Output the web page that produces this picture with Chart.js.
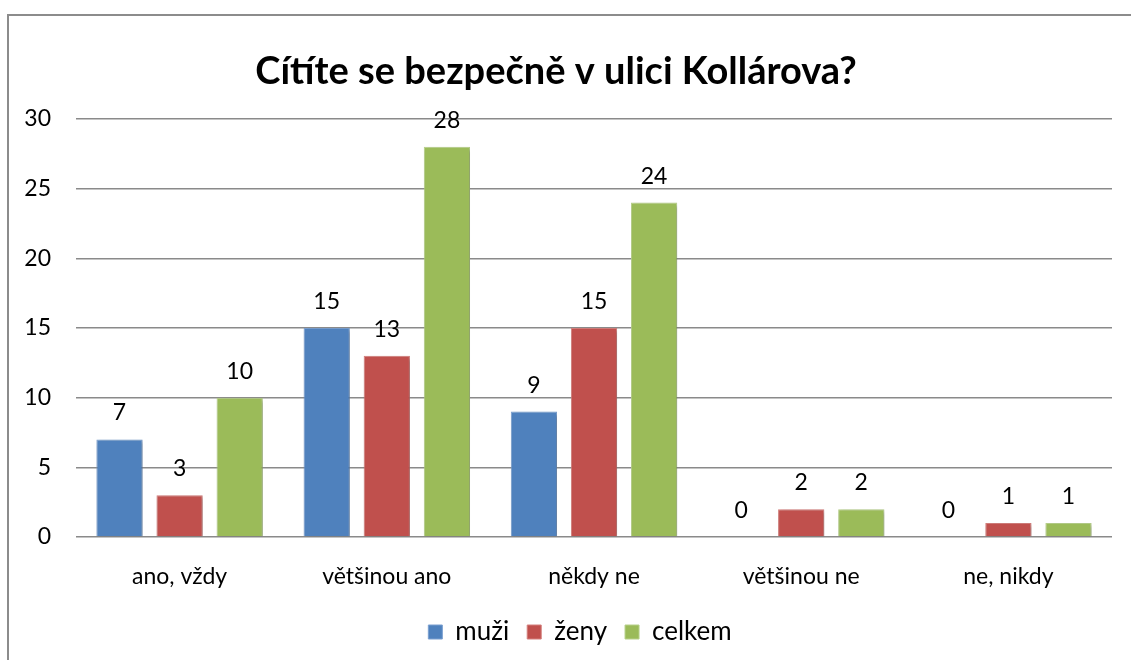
<!DOCTYPE html>
<html>
<head>
<meta charset="utf-8">
<script src="https://cdn.jsdelivr.net/npm/chart.js@4.4.1/dist/chart.umd.min.js"></script>
<style>
html,body{margin:0;padding:0;background:#fff;}
#wrap{width:1131px;height:660px;position:relative;}
</style>
</head>
<body>
<div id="wrap"><canvas id="c" width="1131" height="660"></canvas></div>
<script>
const categories = ["ano, vždy", "většinou ano", "někdy ne", "většinou ne", "ne, nikdy"];
const muzi = [7, 15, 9, 0, 0];
const zeny = [3, 13, 15, 2, 1];
const celkem = [10, 28, 24, 2, 1];
const seriesNames = ["muži", "ženy", "celkem"];
const yTicks = [0, 5, 10, 15, 20, 25, 30];
const titleText = "Cítíte se bezpečně v ulici Kollárova?";

const FONT = "Lato, 'Open Sans', sans-serif";
const FS = 23;

const framePlugin = {
  id: 'frame',
  beforeDraw(chart) {
    const ctx = chart.ctx;
    ctx.save();
    ctx.strokeStyle = '#8c8c8c';
    ctx.lineWidth = 2;
    ctx.beginPath();
    ctx.moveTo(8, 660);
    ctx.lineTo(8, 15);
    ctx.lineTo(1131, 15);
    ctx.stroke();
    ctx.restore();
  }
};

const legendShift = {
  id: 'legendShift',
  afterLayout(chart) {
    if (chart.legend) {
      chart.legend.left += 24;
      chart.legend.right += 24;
    }
  }
};

const shadowPlugin = {
  id: 'barShadow',
  beforeDatasetsDraw(chart) {
    const ctx = chart.ctx;
    ctx.save();
    ctx.shadowColor = 'rgba(0,0,0,0.28)';
    ctx.shadowBlur = 4;
    ctx.shadowOffsetX = 2;
    ctx.shadowOffsetY = 2;
  },
  afterDatasetsDraw(chart) {
    chart.ctx.restore();
  }
};

const labelPlugin = {
  id: 'valueLabels',
  afterDraw(chart) {
    const ctx = chart.ctx;
    ctx.save();
    ctx.font = FS + "px " + FONT;
    ctx.fillStyle = '#000';
    ctx.textAlign = 'center';
    ctx.textBaseline = 'alphabetic';
    chart.data.datasets.forEach((ds, i) => {
      const meta = chart.getDatasetMeta(i);
      meta.data.forEach((bar, j) => {
        ctx.fillText(String(ds.data[j]), bar.x, bar.y - 19);
      });
    });
    ctx.restore();
  }
};

const colors = ['#4F81BD', '#C0504D', '#9BBB59'];
const borders = ['#7A9FD0', '#D47F7C', '#B7D08A'];

new Chart(document.getElementById('c'), {
  type: 'bar',
  data: {
    labels: categories,
    datasets: [muzi, zeny, celkem].map((d, i) => ({
      label: seriesNames[i],
      data: d,
      backgroundColor: colors[i],
      borderColor: borders[i],
      borderWidth: 1,
      borderSkipped: 'bottom',
      categoryPercentage: 0.87,
      barPercentage: 0.77
    }))
  },
  options: {
    responsive: false,
    animation: false,
    devicePixelRatio: 1,
    layout: { padding: { left: 0, right: 19, top: 0, bottom: 5 } },
    plugins: {
      title: {
        display: true,
        text: titleText,
        color: '#000',
        font: { family: FONT, size: 38, weight: 'bold', lineHeight: 1.2 },
        padding: { top: 49, bottom: 24.4 }
      },
      legend: {
        position: 'bottom',
        labels: {
          color: '#000',
          font: { family: FONT, size: 26 },
          boxWidth: 14,
          boxHeight: 14,
          padding: 18,
          generateLabels(chart) {
            return chart.data.datasets.map((ds, i) => ({
              text: ds.label,
              fillStyle: colors[i],
              strokeStyle: borders[i],
              lineWidth: 1,
              fontColor: '#000',
              datasetIndex: i,
              hidden: false
            }));
          }
        }
      },
      tooltip: { enabled: false }
    },
    scales: {
      x: {
        grid: { display: false, drawTicks: false },
        border: { display: false },
        ticks: { color: '#000', font: { family: FONT, size: FS }, padding: 26 },
        afterFit(s) { s.height = 64; }
      },
      y: {
        min: 0,
        max: 30,
        afterBuildTicks(s) { s.ticks = yTicks.map(v => ({ value: v })); },
        grid: { color: '#8a8a8a', lineWidth: 1.5, drawTicks: false },
        border: { display: false },
        ticks: { color: '#000', font: { family: FONT, size: FS }, padding: 25 },
        afterFit(s) { s.width = 76; }
      }
    }
  },
  plugins: [framePlugin, legendShift, shadowPlugin, labelPlugin]
});
</script>
</body>
</html>
